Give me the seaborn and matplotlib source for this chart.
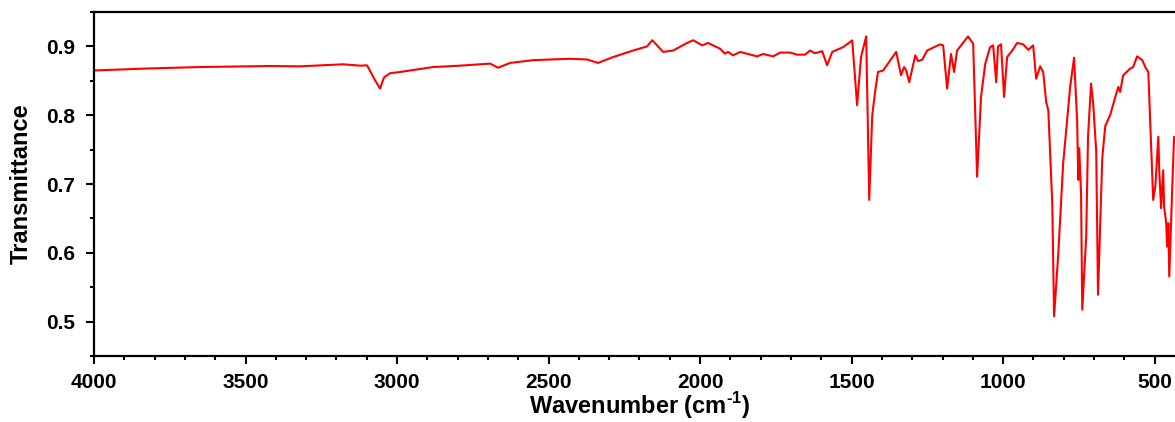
import numpy as np
import pandas as pd
import matplotlib
matplotlib.use("Agg")
import matplotlib.pyplot as plt
from matplotlib.ticker import MultipleLocator
import seaborn as sns

# FTIR spectrum: wavenumber (cm^-1) and transmittance
wavenumber = [
    4000, 3815, 3650, 3419, 3320, 3178, 3122, 3099, 3073, 3056, 3043, 3023,
    2990, 2957, 2881, 2792, 2693, 2667, 2627, 2551, 2429, 2373, 2337, 2287,
    2221, 2175, 2158, 2122, 2089, 2043, 2023, 1993, 1974, 1934, 1918, 1908,
    1891, 1868, 1812, 1792, 1759, 1736, 1703, 1680, 1654, 1637, 1621, 1597,
    1581, 1564, 1528, 1498, 1482, 1469, 1452, 1442, 1432, 1422, 1413, 1396,
    1380, 1353, 1337, 1327, 1320, 1310, 1290, 1281, 1267, 1251, 1208, 1198,
    1185, 1172, 1162, 1152, 1116, 1099, 1086, 1073, 1059, 1043, 1033, 1023,
    1017, 1007, 997, 987, 970, 954, 934, 917, 901, 891, 878, 868,
    858, 851, 838, 832, 818, 802, 779, 766, 756, 752, 749, 743,
    739, 726, 720, 710, 703, 693, 687, 673, 663, 647, 630, 620,
    614, 604, 581, 571, 558, 541, 531, 521, 515, 505, 498, 488,
    485, 479, 472, 469, 462, 459, 455, 452, 442, 436,
]
transmittance = [
    0.865, 0.868, 0.870, 0.8715, 0.871, 0.874, 0.872, 0.8725, 0.851, 0.8387, 0.855, 0.861,
    0.8628, 0.865, 0.870, 0.872, 0.875, 0.869, 0.876, 0.880, 0.882, 0.881, 0.876, 0.8845,
    0.894, 0.900, 0.909, 0.892, 0.894, 0.905, 0.909, 0.9015, 0.905, 0.8966, 0.8894, 0.892,
    0.887, 0.892, 0.8855, 0.889, 0.8855, 0.891, 0.891, 0.888, 0.888, 0.894, 0.890, 0.893,
    0.8725, 0.892, 0.899, 0.9087, 0.8145, 0.8845, 0.9145, 0.6768, 0.800, 0.836, 0.8628, 0.865,
    0.875, 0.892, 0.858, 0.870, 0.865, 0.848, 0.887, 0.8787, 0.8807, 0.894, 0.903, 0.9015,
    0.8387, 0.889, 0.8628, 0.894, 0.9145, 0.904, 0.7106, 0.8266, 0.875, 0.899, 0.9015, 0.848,
    0.900, 0.903, 0.8266, 0.8845, 0.894, 0.905, 0.903, 0.895, 0.9015, 0.853, 0.871, 0.8628,
    0.819, 0.807, 0.672, 0.5077, 0.5996, 0.730, 0.841, 0.8836, 0.7928, 0.706, 0.752, 0.6865,
    0.5174, 0.6236, 0.7686, 0.846, 0.817, 0.7478, 0.539, 0.738, 0.7845, 0.800, 0.8266, 0.841,
    0.8338, 0.858, 0.8677, 0.870, 0.8855, 0.880, 0.870, 0.8628, 0.7928, 0.6768, 0.696, 0.7686,
    0.720, 0.6648, 0.720, 0.667, 0.643, 0.609, 0.643, 0.5657, 0.696, 0.7686,
]

x_major = [4000, 3500, 3000, 2500, 2000, 1500, 1000, 500]
y_major = [0.5, 0.6, 0.7, 0.8, 0.9]

sns.set_style("ticks")
plt.rcParams["font.family"] = ["Liberation Sans", "DejaVu Sans"]
plt.rcParams["font.weight"] = "bold"
plt.rcParams["axes.labelweight"] = "bold"
plt.rcParams["text.color"] = "black"
plt.rcParams["axes.labelcolor"] = "black"
plt.rcParams["xtick.color"] = "black"
plt.rcParams["ytick.color"] = "black"
plt.rcParams["mathtext.fontset"] = "custom"
plt.rcParams["mathtext.rm"] = "Liberation Sans:bold"
plt.rcParams["mathtext.bf"] = "Liberation Sans:bold"

df = pd.DataFrame({"Wavenumber": wavenumber, "Transmittance": transmittance})

fig = plt.figure(figsize=(11.75, 4.22), dpi=100)
ax = fig.add_axes([94 / 1175, 66 / 422, (1185 - 94) / 1175, (356 - 12) / 422])

sns.lineplot(data=df, x="Wavenumber", y="Transmittance", ax=ax,
             color="#ff0000", linewidth=1.5, sort=False, estimator=None)

ax.set_xlim(4000, 400)
ax.set_ylim(0.45, 0.95)
ax.set_xticks(x_major)
ax.set_yticks(y_major)
ax.xaxis.set_minor_locator(MultipleLocator(100))
ax.yaxis.set_minor_locator(MultipleLocator(0.05))
ax.set_xticklabels([str(v) for v in x_major])
ax.set_yticklabels([f"{v:.1f}" for v in y_major])

for side in ["left", "bottom", "top", "right"]:
    ax.spines[side].set_linewidth(1.6)
    ax.spines[side].set_color("black")
ax.spines["right"].set_visible(False)

ax.tick_params(axis="both", which="major", direction="out", length=5.5,
               width=1.5, labelsize=15, colors="black")
ax.tick_params(axis="both", which="minor", direction="out", length=3,
               width=1.5, colors="black")
ax.tick_params(axis="x", which="major", pad=7)
ax.tick_params(axis="y", which="major", pad=8)
ax.tick_params(top=False, right=False, which="both")
for lab in ax.get_xticklabels() + ax.get_yticklabels():
    lab.set_fontweight("bold")

ax.set_xlabel(r"Wavenumber (cm$^{\text{-1}}$)", fontsize=17, fontweight="bold",
              labelpad=-1.5, color="black")
ax.set_ylabel("Transmittance", fontsize=17, fontweight="bold", labelpad=10,
              color="black")

fig.savefig("out.png", dpi=100, facecolor="white")
